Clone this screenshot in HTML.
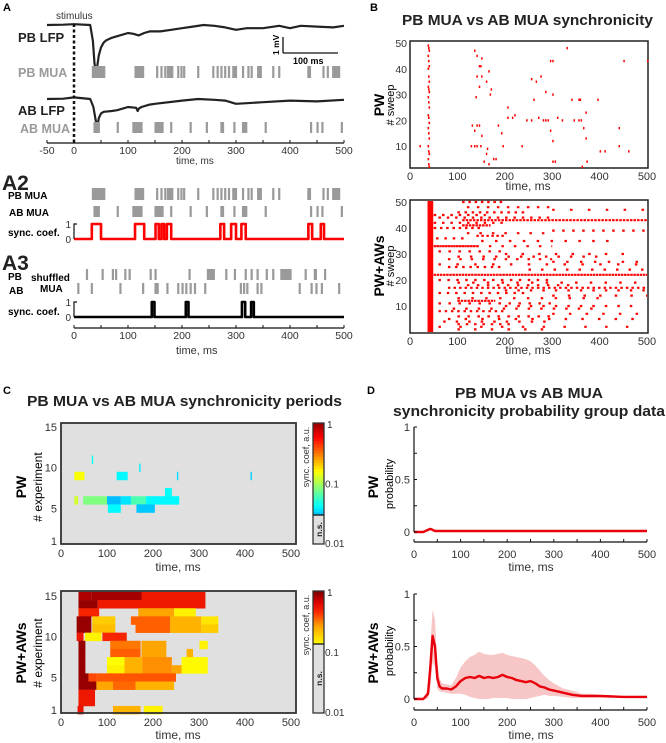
<!DOCTYPE html>
<html><head><meta charset="utf-8">
<style>
html,body{margin:0;padding:0;background:#fff;overflow:hidden;}
svg{display:block;font-family:"Liberation Sans",sans-serif;}
.b{font-weight:bold;}
</style></head>
<body>
<svg id="fig" width="666" height="743" viewBox="0 0 666 743" xmlns="http://www.w3.org/2000/svg">
<g id="gA">
<text x="3" y="11" font-size="11" class="b">A</text>
<text x="56" y="19" font-size="10" fill="#333">stimulus</text>
<text x="18" y="42" font-size="13" class="b" fill="#222">PB LFP</text>
<text x="18" y="77" font-size="12.5" class="b" fill="#9a9a9a">PB MUA</text>
<text x="18" y="115" font-size="13" class="b" fill="#222">AB LFP</text>
<text x="20" y="133" font-size="12.5" class="b" fill="#9a9a9a">AB MUA</text>
<line x1="283" y1="37" x2="283" y2="53" stroke="#111" stroke-width="1.3"/>
<line x1="283" y1="53" x2="338" y2="53" stroke="#111" stroke-width="1.3"/>
<text x="0" y="0" font-size="8.5" class="b" transform="translate(279,55) rotate(-90)">1 mV</text>
<text x="293" y="64" font-size="9" class="b">100 ms</text>
<text x="176" y="164" font-size="10" fill="#333">time, ms</text>
<text x="2" y="190" font-size="21" class="b" fill="#222">A2</text>
<text x="8" y="199" font-size="10" class="b">PB MUA</text>
<text x="9" y="216" font-size="10" class="b">AB MUA</text>
<text x="8" y="236" font-size="10" class="b">sync. coef.</text>
<text x="2" y="270" font-size="21" class="b" fill="#222">A3</text>
<text x="8" y="280" font-size="10" class="b">PB</text>
<text x="31" y="281" font-size="10" class="b">shuffled</text>
<text x="9" y="294" font-size="10" class="b">AB</text>
<text x="40" y="292" font-size="10" class="b">MUA</text>
<text x="8" y="315" font-size="10" class="b">sync. coef.</text>
<text x="176" y="354" font-size="11" fill="#333">time, ms</text>
</g>
<g id="gB">
<text x="370" y="11" font-size="11" class="b">B</text>
<text x="402" y="25" font-size="15" class="b" fill="#222" textLength="251" lengthAdjust="spacingAndGlyphs">PB MUA vs AB MUA synchronicity</text>
<text transform="translate(384,105) rotate(-90)" font-size="14" class="b" text-anchor="middle">PW</text>
<text transform="translate(394,105) rotate(-90)" font-size="11" text-anchor="middle"># sweep</text>
<text transform="translate(384,266) rotate(-90)" font-size="14" class="b" text-anchor="middle">PW+AWs</text>
<text transform="translate(394,266) rotate(-90)" font-size="11" text-anchor="middle"># sweep</text>
<text x="528" y="190" font-size="12" text-anchor="middle" fill="#333">time, ms</text>
<text x="528" y="354" font-size="12" text-anchor="middle" fill="#333">time, ms</text>
</g>
<g id="gC">
<text x="3" y="394" font-size="11" class="b">C</text>
<text x="27" y="406" font-size="15" class="b" fill="#222" textLength="315" lengthAdjust="spacingAndGlyphs">PB MUA vs AB MUA synchronicity periods</text>
<text transform="translate(26,487) rotate(-90)" font-size="14" class="b" text-anchor="middle">PW</text>
<text transform="translate(42,487) rotate(-90)" font-size="12" text-anchor="middle"># experiment</text>
<text transform="translate(26,653) rotate(-90)" font-size="14" class="b" text-anchor="middle">PW+AWs</text>
<text transform="translate(42,653) rotate(-90)" font-size="12" text-anchor="middle"># experiment</text>
<text x="178" y="571" font-size="12" text-anchor="middle" fill="#333">time, ms</text>
<text x="178" y="739" font-size="12" text-anchor="middle" fill="#333">time, ms</text>
</g>
<g id="gD">
<text x="367" y="394" font-size="11" class="b">D</text>
<text x="455" y="398" font-size="15" class="b" fill="#222" textLength="148" lengthAdjust="spacingAndGlyphs">PB MUA vs AB MUA</text>
<text x="393" y="416" font-size="15" class="b" fill="#222" textLength="272" lengthAdjust="spacingAndGlyphs">synchronicity probability group data</text>
<text transform="translate(378,487) rotate(-90)" font-size="14" class="b" text-anchor="middle">PW</text>
<text transform="translate(393,484) rotate(-90)" font-size="11" text-anchor="middle">probability</text>
<text transform="translate(378,653) rotate(-90)" font-size="14" class="b" text-anchor="middle">PW+AWs</text>
<text transform="translate(393,651) rotate(-90)" font-size="11" text-anchor="middle">probability</text>
<text x="531" y="571" font-size="12" text-anchor="middle" fill="#333">time, ms</text>
<text x="531" y="739" font-size="12" text-anchor="middle" fill="#333">time, ms</text>
</g>
</svg>
<script>
// ---------- Panel A data ----------
const pbLfpT = [-50,-20,0,30,35,38,40,43,46,50,55,60,70,80,100,110,120,130,140,160,180,200,220,240,260,280,300,320,350,380,400,420,450,480,500];
const pbLfpV = [0,0.02,0.05,0,-1,-2.4,-2.85,-2.6,-1.9,-1.4,-1.1,-0.95,-0.8,-0.7,-0.5,-0.55,-0.65,-0.5,-0.4,-0.4,-0.3,-0.2,-0.1,0,-0.05,-0.15,-0.3,-0.2,-0.2,-0.05,-0.2,-0.05,-0.1,-0.15,-0.05];
const abLfpT = [-50,-20,0,30,36,40,43,46,50,55,70,80,100,115,118,120,125,140,150,200,230,260,280,300,350,400,450,500];
const abLfpV = [0,0.02,0.1,0,-0.5,-1.3,-1.75,-1.2,-0.9,-0.8,-0.75,-0.7,-0.5,-0.55,-0.75,-0.6,-0.5,-0.35,-0.3,-0.1,0,-0.05,-0.1,-0.3,-0.2,-0.1,-0.15,-0.05];
const pbMua = [[33,58],[112,130],[152,154],[160,162],[167,169],[172,184],[191,193],[197,199],[202,204],[228,230],[256,258],[264,266],[271,273],[278,280],[285,287],[293,302],[311,313],[321,323],[327,329],[339,348],[367,369],[378,380],[432,439],[460,462],[468,470],[478,493]];
const abMua = [[36,48],[79,81],[108,127],[149,166],[178,180],[214,216],[244,246],[271,278],[295,297],[311,321],[353,355],[437,439],[449,451],[458,460],[494,496]];
const a2Sync = [[33,50],[113,130],[151,157],[162,167],[172,180],[271,278],[291,300],[310,318],[434,441],[457,463]];
const shufPb = [[22,24],[51,53],[70,72],[76,78],[93,95],[101,103],[140,142],[149,151],[212,214],[246,261],[280,282],[296,298],[316,318],[327,329],[338,340],[355,357],[367,369],[382,403],[427,429],[444,450],[463,465]];
const shufAb = [[6,8],[31,33],[84,86],[126,128],[149,157],[171,173],[191,193],[199,201],[206,208],[214,216],[222,224],[241,243],[307,309],[313,315],[319,321],[338,340],[345,347],[416,418],[438,440],[447,449],[457,459],[489,491]];
const a3Sync = [[144,149],[207,212],[311,317],[328,333]];
const aTicks = [-50,0,50,100,150,200,250,300,350,400,450,500];
const aTickLabels = [-50,0,100,200,300,400,500];

// ---------- Panel B data ----------
const pwColumnSweeps = [49,48,47,45,43,41,40,37,35,33,32,31,29,27,25,22,21,19,17,15,13,10,8,7,5,3,2];
const pwDotT = [135,140,150,145,148,165,140,150,160,145,170,138,168,130,140,135,150,145,128,135,140,148,162,160,155,165,175,180,195,192,185,205,215,220,245,255,270,280,285,290,310,320,345,360,365,295,300,300,305,330,295,300,255,265,275,285,300,260,340,355,358,395,370,440,370,450,400,410,440,460,362,372,235,205,20,500,355];
const pwDotS = [47,45,44,41,41,39,37,37,35,33,32,29,30,18,18,16,14,18,10,10,10,10,9,7,4,3,5,5,10,15,18,21,21,22,20,20,21,20,20,20,21,20,20,20,17,16,12,4,4,48,43,43,36,35,37,31,30,28,28,28,28,28,23,17,13,43,8,8,10,8,2,4,10,25,10,43,20];
const awRowSweep = [50,48,46,45,43,42,41,40,38,37,36,35,33,33,31,30,28,26,25,22,20,19,17,15,13,12,11,9,8,6,5,4,3,2,1,47,39,27,24,14,10,7,44,29,18,16];
const awRowStart = [110,120,100,50,110,50,110,50,120,140,55,150,50,140,60,200,80,60,80,50,60,100,80,60,100,100,60,90,60,100,80,70,100,60,100,300,300,300,250,300,200,300,60,100,120,200];
const awRowEnd = [200,300,250,160,500,200,170,150,300,200,120,420,140,300,200,480,300,500,200,500,300,500,500,250,420,180,300,400,200,300,500,300,220,480,300,500,500,500,500,500,480,500,300,400,350,500];
const awRowDensity = [0.4,0.25,0.35,0.3,0.7,0.3,0.75,0.4,0.2,0.5,0.3,0.18,0.9,0.2,0.25,0.15,0.22,0.14,0.35,0.8,0.28,0.17,0.45,0.3,0.18,0.75,0.25,0.2,0.4,0.25,0.15,0.2,0.3,0.12,0.15,0.14,0.25,0.18,0.2,0.16,0.2,0.15,0.3,0.2,0.25,0.2];
const bTicks = [0,100,200,300,400,500];
const bSweepTicks = [10,20,30,40,50];

// ---------- Panel C data (experiment, t0, t1, colour level) ----------
const pwCellExp = [11,10,9,9,9,9,7,6,6,6,6,6,6,5,5];
const pwCellT0 = [67,170,29,121,252,412,226,29,48,100,130,152,185,102,164];
const pwCellT1 = [70,173,51,145,255,415,241,37,100,130,152,185,257,130,204];
const pwCellLevel = [0.38,0.36,0.62,0.37,0.34,0.33,0.38,0.58,0.5,0.31,0.35,0.45,0.37,0.37,0.32];
const awCellExp = [15,15,15,14,14,13,13,13,12,12,12,12,12,11,11,11,11,11,10,10,10,9,9,9,9,8,8,8,8,7,7,7,7,7,6,6,6,6,6,6,5,5,5,4,4,4,4,3,2,1,1,1];
const awCellT0 = [38,66,175,38,80,38,168,246,34,68,152,237,305,34,68,162,237,305,34,52,90,38,107,175,301,38,107,175,273,38,100,138,177,262,38,100,138,177,241,262,38,60,77,38,77,113,162,38,38,36,113,180];
const awCellT1 = [66,175,314,80,314,83,246,293,66,118,237,305,342,66,118,237,305,342,49,88,143,53,173,229,319,53,173,229,287,53,138,177,241,319,53,138,177,241,262,319,60,77,250,77,113,162,246,74,74,49,173,221];
const awCellLevel = [0.9,0.92,0.7,0.95,0.7,0.65,0.35,0.05,0.95,0.2,0.5,0.3,0.1,0.95,0.25,0.5,0.3,0.2,0.7,0.05,0.65,0.95,0.45,0.35,0.05,0.95,0.5,0.35,0.3,0.95,0.0,0.3,0.4,0.02,0.95,0.05,0.3,0.4,0.35,0.02,0.95,0.55,0.52,0.95,0.35,0.48,0.3,0.7,0.7,0.72,0.3,0.05];
const cExpTicks = [1,5,10,15];
const cTimeTicks = [0,100,200,300,400,500];

// ---------- Panel D data ----------
const dT = [0,20,30,35,40,45,50,55,60,70,80,90,100,110,120,130,140,150,160,170,180,190,200,210,220,230,240,250,260,270,280,290,300,320,340,360,380,400,450,500];
const dAwMean = [0,0,0.05,0.3,0.6,0.5,0.2,0.12,0.1,0.1,0.09,0.12,0.17,0.2,0.21,0.2,0.22,0.2,0.21,0.2,0.21,0.23,0.21,0.2,0.18,0.17,0.16,0.17,0.15,0.12,0.11,0.09,0.08,0.06,0.04,0.03,0.03,0.03,0.02,0.02];
const dAwUpper = [0.01,0.01,0.1,0.5,0.85,0.75,0.35,0.2,0.15,0.14,0.13,0.2,0.3,0.36,0.4,0.42,0.45,0.43,0.42,0.42,0.43,0.44,0.42,0.41,0.4,0.39,0.38,0.36,0.32,0.27,0.22,0.18,0.15,0.1,0.08,0.05,0.05,0.04,0.03,0.03];
const dAwLower = [0,0,0,0.1,0.35,0.3,0.1,0.07,0.07,0.06,0.05,0.05,0.05,0.04,0.02,0.01,0,0,0,0.01,0.01,0.01,0.01,0,0,0,0,0.01,0.02,0.03,0.04,0.03,0.03,0.02,0.01,0.01,0.01,0.01,0.01,0.01];
const dPwMean = [0,0,0.02,0.03,0.02,0.01,0.01,0.01,0.01,0.01,0.01,0.01,0.01,0.01,0.01,0.01,0.01,0.01,0.01,0.01,0.01,0.01,0.01,0.01,0.01,0.01,0.01,0.01,0.01,0.01,0.01,0.01,0.01,0.01,0.01,0.01,0.01,0.01,0.01,0.01];
const dYTicks = [0,0.5,1];
const dYTickLabels = ['0','0.5','1'];

const NS = 'http://www.w3.org/2000/svg';
const svg = document.getElementById('fig');
function mk(tag, attrs, parent) {
  const e = document.createElementNS(NS, tag);
  for (const k in attrs) e.setAttribute(k, attrs[k]);
  (parent || svg).appendChild(e);
  return e;
}
function txt(x, y, s, size, anchor, parent) {
  const e = mk('text', {x: x, y: y, 'font-size': size, 'text-anchor': anchor, fill: '#333'}, parent);
  e.textContent = s;
  return e;
}

// ================= Panel A =================
const gA = document.getElementById('gA');
const axA = t => 74 + t * 0.54;
function lfp(T, V, base, name) {
  let d = '';
  T.forEach((t, i) => { d += (i ? 'L' : 'M') + axA(t).toFixed(1) + ',' + (base - V[i] * 16).toFixed(1); });
  const p = mk('path', {d: d, fill: 'none', stroke: '#222', 'stroke-width': 2.2, 'stroke-linejoin': 'round'}, gA);
  
  
}
lfp(pbLfpT, pbLfpV, 25, 'pb-lfp-trace');
lfp(abLfpT, abLfpV, 99, 'ab-lfp-trace');
const stim = mk('line', {x1: 74, y1: 24, x2: 74, y2: 143, stroke: '#111', 'stroke-width': 2.5, 'stroke-dasharray': '3,2.5'}, gA);


function raster(list, y0, h, name) {
  list.forEach(s => {
    const w = Math.max(2.2, axA(s[1]) - axA(s[0]));
    const r = mk('rect', {x: axA(s[0]), y: y0, width: w, height: h, fill: '#9a9a9a'}, gA);
    
    
  });
}
raster(pbMua, 66, 12, 'pb-mua-spike');
raster(abMua, 122, 11, 'ab-mua-spike');
raster(pbMua, 188, 12, 'a2-pb-mua-spike');
raster(abMua, 206, 11, 'a2-ab-mua-spike');
raster(shufPb, 269, 11, 'a3-pb-shuffled-spike');
raster(shufAb, 283, 11, 'a3-ab-shuffled-spike');
function syncLine(list, y1, y0, color, name) {
  let d = 'M' + axA(0) + ',' + y0;
  list.forEach(s => {
    d += 'L' + axA(s[0]) + ',' + y0 + 'L' + axA(s[0]) + ',' + y1 + 'L' + axA(s[1]) + ',' + y1 + 'L' + axA(s[1]) + ',' + y0;
  });
  d += 'L' + axA(500) + ',' + y0;
  const p = mk('path', {d: d, fill: 'none', stroke: color, 'stroke-width': 2.6, 'stroke-linejoin': 'round'}, gA);
  
  
  const ax = mk('path', {d: 'M77,' + y1 + 'L74,' + y1 + 'L74,' + y0, fill: 'none', stroke: '#111', 'stroke-width': 1.2}, gA);
  
  
  const l1 = txt(71, y1 + 4, '1', 10, 'end', gA);
  
  
  const l0 = txt(71, y0 + 4, '0', 10, 'end', gA);
  
  
}
syncLine(a2Sync, 224, 239, '#f00', 'a2-sync-line');
syncLine(a3Sync, 302, 317, '#000', 'a3-sync-line');
function aAxis(y, from, name) {
  const l = mk('line', {x1: axA(from), y1: y, x2: axA(500), y2: y, stroke: '#111', 'stroke-width': 1.2}, gA);
  
  
  aTicks.filter(t => t >= from).forEach(t => {
    const tk = mk('line', {x1: axA(t), y1: y - 3, x2: axA(t), y2: y, stroke: '#111', 'stroke-width': 1}, gA);
    
    
  });
  aTickLabels.filter(t => t >= from).forEach(t => {
    const tl = txt(axA(t), y + 11, String(t), 10.5, 'middle', gA);
    
    
  });
}
aAxis(143, -50, 'a-x-axis');
aAxis(328, 0, 'a3-x-axis');

// ================= Panel B =================
const gB = document.getElementById('gB');
const bx = t => 410 + t * 0.474;
function bPanel(top, bottom, yOf, name) {
  const r = mk('rect', {x: 410, y: top, width: 238, height: bottom - top, fill: '#fff', stroke: '#222', 'stroke-width': 1.5}, gB);
  
  
  bTicks.forEach(t => {
    const tl = txt(bx(t), bottom + 12, String(t), 11, 'middle', gB);
    
    
  });
  bSweepTicks.forEach(s => {
    const tl = txt(407, yOf(s) + 4, String(s), 10.5, 'end', gB);
    
    
  });
}
const byTop = s => 43 + (50 - s) * 2.58;
const byBot = s => 202 + (50 - s) * 2.6;
bPanel(41, 168, byTop, 'b-pw');
bPanel(200, 333, byBot, 'b-pwaw');
pwColumnSweeps.forEach((s, i) => {
  const r = mk('rect', {x: bx(37 + (i % 3)), y: byTop(s) - 1.2, width: 1.6, height: 2.4, fill: '#f00'}, gB);
  
  
});
pwDotT.forEach((t, i) => {
  const r = mk('rect', {x: bx(t), y: byTop(pwDotS[i]) - 1.2, width: 1.5, height: 2.4, fill: '#f00'}, gB);
  
  
});
const col = mk('rect', {x: bx(37), y: 201, width: bx(49) - bx(37), height: 131, fill: '#f00'}, gB);


awRowSweep.forEach((s, i) => {
  const on = 2.5, off = on * (1 - awRowDensity[i]) / awRowDensity[i];
  const l = mk('line', {x1: bx(awRowStart[i]), y1: byBot(s), x2: bx(awRowEnd[i]), y2: byBot(s), stroke: '#f00', 'stroke-width': 2.2, 'stroke-dasharray': on + ',' + off.toFixed(2)}, gB);
  
  
});

// ================= Panel C =================
const gC = document.getElementById('gC');
const cx = t => 61 + t * 0.46;
function jet(v) {
  const c = x => Math.round(255 * Math.max(0, Math.min(1, x)));
  return 'rgb(' + c(1.5 - Math.abs(4 * v - 3)) + ',' + c(1.5 - Math.abs(4 * v - 2)) + ',' + c(1.5 - Math.abs(4 * v - 1)) + ')';
}
function hot(v) {
  const stops = [[0, [255, 255, 0]], [0.35, [255, 165, 0]], [0.6, [255, 48, 0]], [0.8, [220, 0, 0]], [1, [128, 0, 0]]];
  for (let i = 1; i < stops.length; i++) {
    if (v <= stops[i][0]) {
      const a = stops[i - 1], b = stops[i], f = (v - a[0]) / (b[0] - a[0]);
      return 'rgb(' + a[1].map((q, k) => Math.round(q + (b[1][k] - q) * f)).join(',') + ')';
    }
  }
  return 'rgb(128,0,0)';
}
function cPanel(top, bottom, y15, y1, expArr, t0Arr, t1Arr, lvArr, cmap, nsY, name) {
  const unit = (y1 - y15) / 14;
  const ey = e => y1 - (e - 1) * unit;
  const bg = mk('rect', {x: 61, y: top, width: 235, height: bottom - top, fill: '#e0e0e0'}, gC);
  
  
  expArr.forEach((e, i) => {
    const r = mk('rect', {x: cx(t0Arr[i]), y: ey(e) - unit / 2, width: Math.max(1, cx(t1Arr[i]) - cx(t0Arr[i])), height: unit + 0.3, fill: cmap(lvArr[i])}, gC);
    
    
  });
  const fr = mk('rect', {x: 61, y: top, width: 235, height: bottom - top, fill: 'none', stroke: '#333', 'stroke-width': 1.8}, gC);
  
  
  cExpTicks.forEach(e => {
    const tl = txt(57, ey(e) + 4, String(e), 11, 'end', gC);
    
    
  });
  cTimeTicks.forEach(t => {
    const tl = txt(cx(t), bottom + 13, String(t), 11, 'middle', gC);
    
    
  });
  const nsr = mk('rect', {x: 313, y: nsY, width: 11, height: bottom - nsY, fill: '#e0e0e0'}, gC);
  
  
  const steps = 30;
  for (let k = 0; k < steps; k++) {
    const f = k / steps;
    const c = cmap === jet ? jet(0.97 - f * 0.67) : hot(1 - f);
    const r = mk('rect', {x: 313, y: top + f * (nsY - top), width: 11, height: (nsY - top) / steps + 0.5, fill: c}, gC);
    
    
  }
  const cf = mk('rect', {x: 313, y: top, width: 11, height: bottom - top, fill: 'none', stroke: '#333', 'stroke-width': 1.3}, gC);
  
  
  const nl = mk('line', {x1: 313, y1: nsY, x2: 324, y2: nsY, stroke: '#111', 'stroke-width': 1.3}, gC);
  
  
  const c1 = txt(327, top + 5, '1', 10, 'start', gC);
  
  
  const c2 = txt(325, top + (bottom - top) * 0.5 + 4, '0.1', 10, 'start', gC);
  
  
  const c3 = txt(325, bottom + 3, '0.01', 10, 'start', gC);
  
  
  const ct = mk('text', {transform: 'translate(309,' + (top + 34) + ') rotate(-90)', 'font-size': 9, 'text-anchor': 'middle', fill: '#333'}, gC);
  ct.textContent = 'sync. coef, a.u.';
  
  
  const ns = mk('text', {transform: 'translate(322,' + ((nsY + bottom) / 2) + ') rotate(-90)', 'font-size': 8.5, 'font-weight': 'bold', 'text-anchor': 'middle', fill: '#222'}, gC);
  ns.textContent = 'n.s.';
  
  
}
cPanel(423, 544, 427, 541, pwCellExp, pwCellT0, pwCellT1, pwCellLevel, jet, 515, 'c-pw');
cPanel(591, 713, 596, 710, awCellExp, awCellT0, awCellT1, awCellLevel, hot, 644, 'c-pwaw');

// ================= Panel D =================
const gD = document.getElementById('gD');
const dx = t => 414 + t * 0.466;
function dPanel(y1, y0, axisY, mean, upper, lower, name) {
  const dy = v => y0 - v * (y0 - y1);
  if (upper) {
    let d = '';
    dT.forEach((t, i) => { d += (i ? 'L' : 'M') + dx(t).toFixed(1) + ',' + dy(upper[i]).toFixed(1); });
    for (let i = dT.length - 1; i >= 0; i--) d += 'L' + dx(dT[i]).toFixed(1) + ',' + dy(lower[i]).toFixed(1);
    const band = mk('path', {d: d + 'Z', fill: '#f7c6c6', stroke: 'none'}, gD);
    
    
  }
  let d = '';
  dT.forEach((t, i) => { d += (i ? 'L' : 'M') + dx(t).toFixed(1) + ',' + dy(mean[i]).toFixed(1); });
  const ln = mk('path', {d: d, fill: 'none', stroke: '#e8000b', 'stroke-width': 2.4, 'stroke-linejoin': 'round'}, gD);
  
  
  const ya = mk('line', {x1: 414, y1: y1, x2: 414, y2: y0, stroke: '#111', 'stroke-width': 1.2}, gD);
  
  
  [0, 0.25, 0.5, 0.75, 1].forEach(v => {
    const tk = mk('line', {x1: 414, y1: dy(v), x2: 417, y2: dy(v), stroke: '#111', 'stroke-width': 1}, gD);
    
    
  });
  dYTicks.forEach((v, i) => {
    const tl = txt(410, dy(v) + 4, dYTickLabels[i], 11, 'end', gD);
    
    
  });
  const xa = mk('line', {x1: 414, y1: axisY, x2: 647, y2: axisY, stroke: '#111', 'stroke-width': 1.2}, gD);
  
  
  for (let t = 0; t <= 500; t += 50) {
    const tk = mk('line', {x1: dx(t), y1: axisY, x2: dx(t), y2: axisY - 3, stroke: '#111', 'stroke-width': 1}, gD);
    
    
  }
  cTimeTicks.forEach(t => {
    const tl = txt(dx(t), axisY + 16, String(t), 11, 'middle', gD);
    
    
  });
}
dPanel(427, 532, 542, dPwMean, null, null, 'd-pw');
dPanel(594, 699, 710, dAwMean, dAwUpper, dAwLower, 'd-pwaw');
</script>
</body></html>
